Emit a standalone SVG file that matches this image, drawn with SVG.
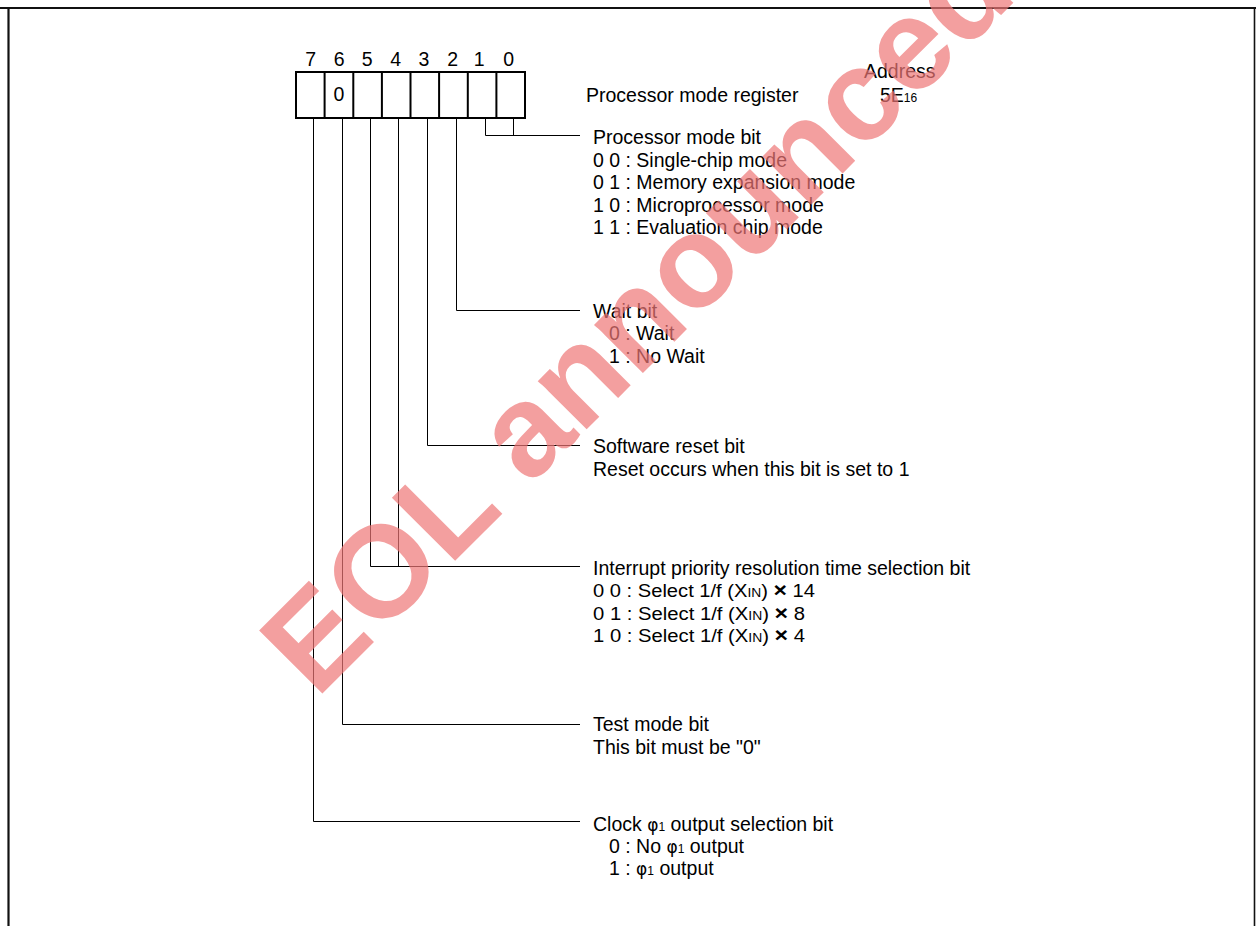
<svg xmlns="http://www.w3.org/2000/svg" width="1256" height="926" viewBox="0 0 1256 926">
<style>
.t{font-family:"Liberation Sans",Arial,sans-serif;font-size:19.5px;fill:#000}
.s{font-size:17.5px}
.sm{font-size:12px}
.ph{font-size:17px;font-family:"DejaVu Sans","Liberation Sans",sans-serif}
.mul{font-size:20px;font-weight:bold}
.ln{stroke:#000;stroke-width:1;fill:none}
.box{stroke:#000;stroke-width:2;fill:#fff}
.wm{font-family:"Liberation Sans",Arial,sans-serif;font-weight:bold;font-size:130px;fill:#ef7777;opacity:0.7}
</style>
<rect x="0" y="0" width="1256" height="926" fill="#fff"/>
<g id="frame" fill="none" stroke="#111">
<line x1="0" y1="8" x2="1256" y2="8" stroke-width="2.2"/>
<line x1="8.5" y1="8" x2="8.5" y2="926" stroke-width="2.2"/>
<line x1="1254.5" y1="8" x2="1254.5" y2="926" stroke-width="1.6"/>
</g>
<g id="register">
<rect class="box" x="296" y="72" width="229" height="46"/>
<path d="M324.6 72V118M353.3 72V118M381.9 72V118M410.5 72V118M439.1 72V118M467.8 72V118M496.4 72V118" stroke="#000" stroke-width="2"/>
<g class="t" text-anchor="middle">
<text x="310.7" y="66">7</text>
<text x="339.3" y="66">6</text>
<text x="367.3" y="66">5</text>
<text x="395.7" y="66">4</text>
<text x="424" y="66">3</text>
<text x="452.7" y="66">2</text>
<text x="479.3" y="66">1</text>
<text x="508.7" y="66">0</text>
<text x="339" y="101">0</text>
</g>
<text class="t" x="586" y="102">Processor mode register</text>
<text class="t" x="864" y="78">Address</text>
<text class="t" x="880" y="102">5E<tspan class="sm">16</tspan></text>
</g>
<g id="connectors" class="ln">
<path d="M313.5 118V821.5H580"/>
<path d="M342.5 118V724.5H580"/>
<path d="M370.5 118V566.5H580"/>
<path d="M398.5 118V566.5"/>
<path d="M427.5 118V445.5H580"/>
<path d="M456.5 118V310.5H580"/>
<path d="M485.5 118V135.5H580"/>
<path d="M513.5 118V135.5"/>
</g>
<g id="processor-mode-bit" class="t">
<text x="593" y="144">Processor mode bit</text>
<text x="593" y="166.5">0 0 : Single-chip mode</text>
<text x="593" y="189">0 1 : Memory expansion mode</text>
<text x="593" y="211.5">1 0 : Microprocessor mode</text>
<text x="593" y="234">1 1 : Evaluation chip mode</text>
</g>
<g id="wait-bit" class="t">
<text x="593" y="317.5">Wait bit</text>
<text x="609" y="340">0 : Wait</text>
<text x="609" y="362.5">1 : No Wait</text>
</g>
<g id="software-reset-bit" class="t">
<text x="593" y="453">Software reset bit</text>
<text x="593" y="475.5">Reset occurs when this bit is set to 1</text>
</g>
<g id="interrupt-priority-bit" class="t">
<text x="593" y="575">Interrupt priority resolution time selection bit</text>
<text class="s" x="593" y="597" textLength="222" lengthAdjust="spacingAndGlyphs">0 0 : Select 1/f (X<tspan class="sm">IN</tspan>) <tspan class="mul">×</tspan> 14</text>
<text class="s" x="593" y="619.5" textLength="212" lengthAdjust="spacingAndGlyphs">0 1 : Select 1/f (X<tspan class="sm">IN</tspan>) <tspan class="mul">×</tspan> 8</text>
<text class="s" x="593" y="641.5" textLength="212" lengthAdjust="spacingAndGlyphs">1 0 : Select 1/f (X<tspan class="sm">IN</tspan>) <tspan class="mul">×</tspan> 4</text>
</g>
<g id="test-mode-bit" class="t">
<text x="593" y="731">Test mode bit</text>
<text x="593" y="753.5">This bit must be "0"</text>
</g>
<g id="clock-output-bit" class="t">
<text x="593" y="831">Clock <tspan class="ph">φ</tspan><tspan class="sm">1</tspan> output selection bit</text>
<text x="609" y="853">0 : No <tspan class="ph">φ</tspan><tspan class="sm">1</tspan> output</text>
<text x="609" y="875">1 : <tspan class="ph">φ</tspan><tspan class="sm">1</tspan> output</text>
</g>
<g id="watermark">
<text class="wm" transform="translate(316.3 699.7) rotate(-45)">EOL announced</text>
</g>
</svg>
